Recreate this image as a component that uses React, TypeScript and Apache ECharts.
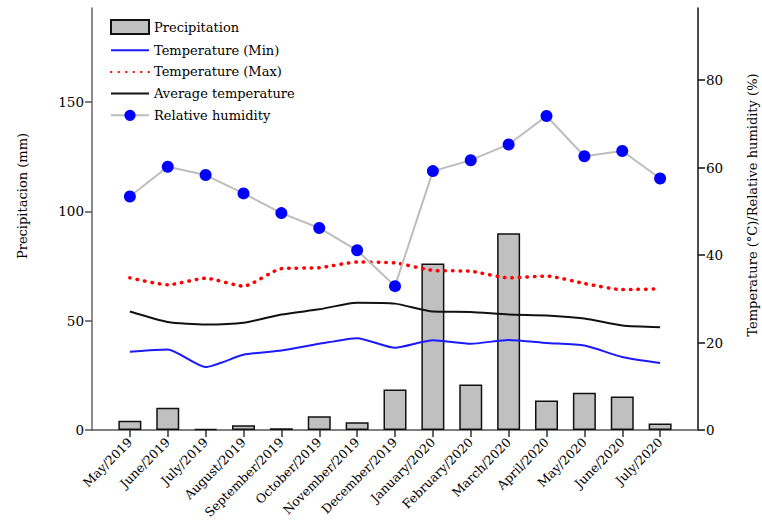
import React, { useEffect, useRef } from 'react';
import * as echarts from 'echarts';

const months = ['May/2019', 'June/2019', 'July/2019', 'August/2019', 'September/2019', 'October/2019', 'November/2019', 'December/2019', 'January/2020', 'February/2020', 'March/2020', 'April/2020', 'May/2020', 'June/2020', 'July/2020'];
const precipitation = [4.2, 10.2, 0.5, 2.2, 0.8, 6.3, 3.6, 18.5, 76.1, 20.8, 90, 13.5, 17, 15.3, 3];
const tempMin = [17.9, 18.4, 14.4, 17.2, 18.2, 19.7, 21.0, 18.8, 20.5, 19.7, 20.6, 19.9, 19.3, 16.7, 15.3];
const tempMax = [34.8, 33.2, 34.7, 32.9, 36.9, 37.1, 38.4, 38.2, 36.5, 36.3, 34.8, 35.2, 33.5, 32.1, 32.3];
const tempAvg = [27.1, 24.7, 24.1, 24.5, 26.4, 27.6, 29.1, 28.9, 27.1, 27.0, 26.4, 26.2, 25.5, 23.9, 23.5];
const humidity = [53.4, 60.2, 58.3, 54.1, 49.6, 46.2, 41.1, 32.9, 59.2, 61.7, 65.3, 71.8, 62.6, 63.8, 57.5];
const leftTicks = [0, 50, 100, 150];
const rightTicks = [0, 20, 40, 60, 80];

const FONT = 'DejaVu Serif';

const pad = (arr: (number | string)[]) => [null, ...arr, null];

export default function App() {
  const ref = useRef<HTMLDivElement>(null);
  useEffect(() => {
    document.body.style.margin = '0';
    const chart = echarts.init(ref.current!, null, { renderer: 'svg' });
    const cats = ['', ...months, ''];
    const last = cats.length - 1;
    const noSymbol = { itemStyle: { opacity: 0 } };
    chart.setOption({
      animation: false,
      backgroundColor: '#fff',
      textStyle: { fontFamily: FONT },
      grid: { left: 92, right: 64, top: 8, bottom: 98, outerBoundsMode: 'none', containLabel: false },
      legend: {
        left: 105,
        top: 14,
        orient: 'vertical',
        itemWidth: 38,
        itemHeight: 14,
        itemGap: 8.7,
        textStyle: { fontFamily: FONT, fontSize: 13, color: '#000' },
        data: [
          { name: 'Precipitation', icon: 'rect' },
          { name: 'Temperature (Min)', ...noSymbol },
          { name: 'Temperature (Max)', ...noSymbol },
          { name: 'Average temperature', ...noSymbol },
          { name: 'Relative humidity' },
        ],
      },
      xAxis: {
        type: 'category',
        data: cats,
        boundaryGap: false,
        axisLine: { lineStyle: { color: '#555', width: 1.5 } },
        axisTick: {
          length: 7,
          lineStyle: { color: '#333', width: 1.5 },
          interval: (i: number) => i > 0 && i < last,
        },
        axisLabel: {
          rotate: 45,
          margin: 10,
          interval: (i: number) => i > 0 && i < last,
          fontFamily: FONT,
          fontSize: 12.5,
          color: '#000',
        },
        splitLine: { show: false },
      },
      yAxis: [
        {
          type: 'value',
          min: 0,
          max: 193,
          interval: 50,
          position: 'left',
          axisLine: { show: true, lineStyle: { color: '#666', width: 1.5 } },
          axisTick: { show: true, length: 7, customValues: leftTicks, lineStyle: { color: '#555', width: 1.5 } },
          axisLabel: { margin: 8, customValues: leftTicks, fontFamily: FONT, fontSize: 13.5, color: '#000' },
          splitLine: { show: false },
        },
        {
          type: 'value',
          min: 0,
          max: 96.5,
          interval: 20,
          position: 'right',
          axisLine: { show: true, lineStyle: { color: '#111', width: 1.5 } },
          axisTick: { show: true, length: 7, customValues: rightTicks, lineStyle: { color: '#111', width: 1.5 } },
          axisLabel: { margin: 8, customValues: rightTicks, fontFamily: FONT, fontSize: 13.5, color: '#000' },
          splitLine: { show: false },
        },
      ],
      graphic: [
        {
          type: 'text',
          x: 22,
          y: 196,
          rotation: Math.PI / 2,
          style: { text: 'Precipitacion (mm)', font: '13px "DejaVu Serif"', fill: '#000', align: 'center', verticalAlign: 'middle' },
        },
        {
          type: 'text',
          x: 752,
          y: 205,
          rotation: Math.PI / 2,
          style: { text: 'Temperature (°C)/Relative humidity (%)', font: '13px "DejaVu Serif"', fill: '#000', align: 'center', verticalAlign: 'middle' },
        },
      ],
      series: [
        {
          name: 'Precipitation',
          type: 'bar',
          yAxisIndex: 0,
          data: pad(precipitation),
          barWidth: 23,
          itemStyle: { color: '#c0c0c0', borderColor: '#111', borderWidth: 1.5 },
          z: 1,
        },
        {
          name: 'Temperature (Min)',
          type: 'line',
          yAxisIndex: 1,
          data: pad(tempMin),
          smooth: 0.2,
          symbol: 'none',
          lineStyle: { color: '#1a1aff', width: 2 },
          itemStyle: { color: '#1a1aff' },
          z: 3,
        },
        {
          name: 'Temperature (Max)',
          type: 'line',
          yAxisIndex: 1,
          data: pad(tempMax),
          smooth: 0.2,
          symbol: 'none',
          lineStyle: { color: '#ff0000', width: 3.5, type: [0.5, 7], cap: 'round' },
          itemStyle: { color: '#ff0000' },
          z: 3,
        },
        {
          name: 'Average temperature',
          type: 'line',
          yAxisIndex: 1,
          data: pad(tempAvg),
          smooth: 0.2,
          symbol: 'none',
          lineStyle: { color: '#111', width: 2 },
          itemStyle: { color: '#111' },
          z: 3,
        },
        {
          name: 'Relative humidity',
          type: 'line',
          yAxisIndex: 1,
          data: pad(humidity),
          symbol: 'circle',
          symbolSize: 12,
          showAllSymbol: true,
          lineStyle: { color: '#bdbdbd', width: 2 },
          itemStyle: { color: '#0000ff' },
          z: 4,
        },
      ],
    });
    return () => chart.dispose();
  }, []);
  return <div ref={ref} style={{ width: 762, height: 528 }} />;
}
